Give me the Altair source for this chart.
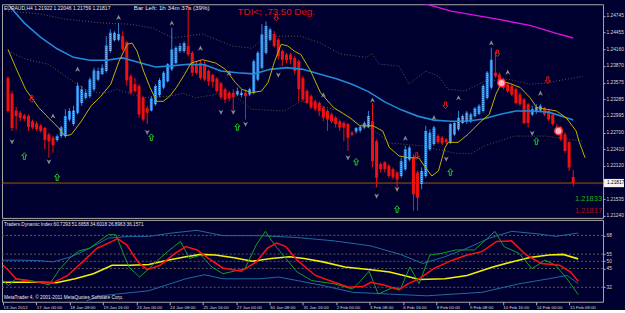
import altair as alt
import pandas as pd

# ---------------- data ----------------
opens = [
1.2366,1.2338,1.2309,1.2305,1.2300,1.2299,1.2290,1.2286,1.2282,1.2278,
1.2267,1.2261,1.2257,1.2264,1.2264,1.2293,1.2285,1.2305,1.2322,1.2331,
1.2334,1.2346,1.2363,1.2373,1.2378,1.2413,1.2432,1.2433,1.2439,1.2429,
1.2369,1.2355,1.2352,1.2331,1.2313,1.2309,1.2320,1.2336,1.2349,1.2360,
1.2381,1.2392,1.2413,1.2413,1.2422,1.2410,1.2390,1.2392,1.2391,1.2378,
1.2371,1.2365,1.2356,1.2346,1.2340,1.2340,1.2337,1.2336,1.2340,1.2337,
1.2340,1.2363,1.2384,1.2410,1.2433,1.2443,1.2433,1.2413,1.2407,1.2407,
1.2401,1.2395,1.2366,1.2343,1.2334,1.2325,1.2322,1.2314,1.2308,1.2302,
1.2296,1.2290,1.2287,1.2285,1.2270,1.2272,1.2274,1.2279,1.2280,1.2290,
1.2255,1.2215,1.2218,1.2212,1.2206,1.2200,1.2194,1.2206,1.2223,1.2226,
1.2200,1.2180,1.2194,1.2241,1.2250,1.2264,1.2261,1.2258,1.2253,1.2267,
1.2276,1.2287,1.2290,1.2290,1.2299,1.2303,1.2308,1.2331,1.2349,1.2375,
1.2372,1.2363,1.2355,1.2352,1.2346,1.2337,1.2328,1.2320,1.2302,1.2307,
1.2309,1.2313,1.2308,1.2302,1.2279,1.2279,1.2267,1.2253,1.21922]
highs = [
1.2369,1.2343,1.2315,1.2308,1.2303,1.2302,1.2293,1.2290,1.2285,1.2280,
1.2270,1.2264,1.2267,1.2282,1.2311,1.2313,1.2317,1.2358,1.2352,1.2346,
1.2367,1.2384,1.2384,1.2390,1.2439,1.2451,1.2448,1.2462,1.2448,1.2430,
1.2372,1.2366,1.2355,1.2334,1.2317,1.2334,1.2355,1.2366,1.2378,1.2392,
1.2454,1.2422,1.2427,1.2430,1.2495,1.2413,1.2395,1.2398,1.2395,1.2381,
1.2373,1.2367,1.2359,1.2349,1.2343,1.2346,1.2349,1.2346,1.2346,1.2349,
1.2398,1.2413,1.2460,1.2465,1.2454,1.2448,1.2436,1.2416,1.2410,1.2410,
1.2404,1.2398,1.2369,1.2346,1.2337,1.2328,1.2325,1.2317,1.2311,1.2305,
1.2299,1.2293,1.2290,1.2287,1.2273,1.2280,1.2283,1.2290,1.2308,1.2322,
1.2258,1.2218,1.2220,1.2215,1.2209,1.2203,1.2226,1.2247,1.2247,1.2232,
1.2203,1.2209,1.2282,1.2276,1.2282,1.2267,1.2264,1.2261,1.2287,1.2290,
1.2308,1.2302,1.2308,1.2305,1.2315,1.2320,1.2355,1.2378,1.2419,1.2413,
1.2375,1.2366,1.2358,1.2355,1.2349,1.2340,1.2331,1.2322,1.2317,1.2320,
1.2320,1.2315,1.2311,1.2305,1.2285,1.2282,1.2270,1.2255,1.22046]
lows = [
1.2305,1.2273,1.2276,1.2290,1.2290,1.2273,1.2276,1.2273,1.2270,1.2241,
1.2226,1.2235,1.2254,1.2261,1.2261,1.2290,1.2282,1.2302,1.2317,1.2328,
1.2331,1.2343,1.2360,1.2371,1.2375,1.2410,1.2430,1.2430,1.2413,1.2352,
1.2337,1.2340,1.2296,1.2290,1.2285,1.2307,1.2317,1.2332,1.2346,1.2358,
1.2378,1.2390,1.2410,1.2410,1.2404,1.2369,1.2372,1.2363,1.2360,1.2352,
1.2349,1.2340,1.2328,1.2322,1.2325,1.2308,1.2334,1.2332,1.2293,1.2334,
1.2337,1.2360,1.2381,1.2407,1.2430,1.2419,1.2398,1.2387,1.2392,1.2390,
1.2372,1.2325,1.2325,1.2320,1.2311,1.2308,1.2299,1.2290,1.2273,1.2287,
1.2279,1.2273,1.2255,1.2238,1.2264,1.2268,1.2270,1.2276,1.2278,1.2209,
1.2174,1.2200,1.2200,1.2191,1.2188,1.2174,1.2191,1.2203,1.2220,1.2133,
1.2133,1.2171,1.2191,1.2238,1.2247,1.2250,1.2248,1.2250,1.2250,1.2264,
1.2273,1.2285,1.2285,1.2287,1.2296,1.2301,1.2305,1.2328,1.2346,1.2366,
1.2349,1.2346,1.2340,1.2334,1.2320,1.2317,1.2285,1.2279,1.2299,1.2303,
1.2307,1.2299,1.2290,1.2282,1.2267,1.2255,1.2235,1.2203,1.21759]
closes = [
1.2308,1.2278,1.2299,1.2296,1.2294,1.2280,1.2279,1.2276,1.2273,1.2257,
1.2255,1.2248,1.2264,1.2279,1.2299,1.2308,1.2309,1.2352,1.2346,1.2340,
1.2363,1.2379,1.2378,1.2384,1.2423,1.2445,1.2445,1.2443,1.2416,1.2362,
1.2340,1.2343,1.2302,1.2293,1.2305,1.2330,1.2352,1.2362,1.2375,1.2390,
1.2416,1.2419,1.2422,1.2427,1.2407,1.2375,1.2375,1.2366,1.2363,1.2360,
1.2359,1.2343,1.2332,1.2328,1.2330,1.2332,1.2343,1.2340,1.2334,1.2346,
1.2395,1.2410,1.2442,1.2457,1.2451,1.2422,1.2404,1.2398,1.2397,1.2398,
1.2378,1.2346,1.2328,1.2322,1.2314,1.2311,1.2308,1.2296,1.2293,1.2290,
1.2285,1.2279,1.2279,1.2261,1.2267,1.2278,1.2280,1.2287,1.2299,1.2220,
1.2191,1.2206,1.2206,1.2194,1.2192,1.2188,1.2220,1.2241,1.2244,1.2162,
1.2156,1.2203,1.2273,1.2270,1.2279,1.2253,1.2251,1.2253,1.2285,1.2287,
1.2296,1.2299,1.2305,1.2302,1.2313,1.2317,1.2352,1.2375,1.2398,1.2369,
1.2355,1.2349,1.2343,1.2337,1.2322,1.2320,1.2287,1.2287,1.2311,1.2315,
1.2317,1.2302,1.2293,1.2285,1.2273,1.2258,1.2238,1.2209,1.21817]
bar_index = list(range(len(closes)))

time_ticks = [0, 8, 16, 24, 32, 40, 48, 56, 64, 72, 80, 88, 96, 104, 112, 120, 128, 136]
time_labels = ["13 Jan 2012", "17 Jan 00:00", "18 Jan 08:00", "19 Jan 16:00", "23 Jan 00:00",
               "24 Jan 08:00", "25 Jan 16:00", "27 Jan 00:00", "30 Jan 08:00", "31 Jan 16:00",
               "2 Feb 00:00", "3 Feb 08:00", "6 Feb 16:00", "8 Feb 00:00", "9 Feb 08:00",
               "10 Feb 16:00", "14 Feb 00:00", "15 Feb 08:00"]

price_ticks = [1.21240, 1.21535, 1.22120, 1.22410, 1.22700, 1.22995, 1.23285,
               1.23575, 1.23870, 1.24160, 1.24455, 1.24745]
bid = 1.21817

ma_i = [0,4,8,12,16,20,24,28,32,36,40,44,48,52,56,60,64,68,72,76,80,84,88,92,96,100,104,108,112,116,120,124,128,132,136,138]
ma_p = [1.2495,1.2462,1.2437,1.2417,1.2402,1.2397,1.2397,1.2401,1.2393,1.2385,1.2387,1.2390,1.2389,1.2378,1.2375,1.2373,1.2381,1.2384,
        1.2381,1.2373,1.2365,1.2355,1.2342,1.2324,1.2310,1.2299,1.2292,1.2290,1.2290,1.2294,1.2302,1.2308,1.2308,1.2306,1.2297,1.2292]

yel_i = [0,1.9,4.3,7.5,9.9,12.3,13.9,15.5,17.9,20.3,22.7,25.1,27.1,29.1,30.3,31.5,33.1,34.7,36.3,37.9,39.5,41.1,43.1,44.7,47.5,
         50.7,53.1,55.5,57.1,59.5,61.9,63.5,65.1,66.7,68.3,69.9,71.5,73.9,76.3,79.5,83.5,85.9,89.1,91.5,93.1,95.5,97.9,100.3,
         101.9,103.5,105.1,106.7,107.5,109.9,112.3,115.5,117.5,119.1,120.3,121.9,125.1,127.5,129.1,131.5,133.9,136.3,138.7,139.4,140.9]
yel_p = [1.2416,1.2384,1.2346,1.2314,1.2296,1.2279,1.2264,1.2267,1.2290,1.2317,1.2334,1.2355,1.2395,1.2425,1.2427,1.2413,1.2378,
         1.2349,1.2325,1.2325,1.2334,1.2349,1.2372,1.2392,1.2398,1.2392,1.2381,1.2358,1.2346,1.2340,1.2343,1.2358,1.2395,1.2425,
         1.2422,1.2413,1.2407,1.2378,1.2340,1.2314,1.2296,1.2282,1.2282,1.2273,1.2244,1.2229,1.2226,1.2226,1.2209,1.2194,1.2203,
         1.2244,1.2253,1.2253,1.2267,1.2290,1.2302,1.2337,1.2355,1.2358,1.2349,1.2331,1.2314,1.2311,1.2308,1.2296,1.2273,1.2255,1.2226]

env_up_i = [0,7.9,13.9,23.5,30.0,35.5,40.3,47.5,54.7,59.5,63.1,71.5,76.3,81.1,87.6,88.8,90.7,95.5,97.9,102.0,
            105.1,107.5,111.6,116.4,121.9,127.4,131.5,140.4]
env_up_p = [1.2483,1.2478,1.2469,1.2462,1.2460,1.2453,1.2436,1.2443,1.2422,1.2418,1.2439,1.2439,1.2427,1.2408,1.2402,
            1.2409,1.2390,1.2387,1.2355,1.2378,1.2369,1.2346,1.2343,1.2360,1.2364,1.2355,1.2357,1.2369]
env_lo_i = [0,4.3,9.8,14.6,19.4,23.5,26.6,33.1,39.6,42.7,45.8,52.3,55.4,59.5,67.4,71.5,76.3,81.1,85.9,89.0,
            93.1,101.0,109.2,113.0,116.4,123.6,131.5,140.4]
env_lo_p = [1.2413,1.2399,1.2390,1.2366,1.2343,1.2339,1.2346,1.2331,1.2334,1.2339,1.2331,1.2339,1.2334,1.2311,1.2308,
            1.2325,1.2317,1.2308,1.2285,1.2276,1.2252,1.2247,1.2234,1.2233,1.2247,1.2264,1.2264,1.2255]

mag_i = [98,100.3,108.2,119.5,127.4,133.9,138.0]
mag_p = [1.2505,1.2499,1.2483,1.2469,1.2458,1.2444,1.2436]

frac_up_i = [11,17,27,40,47,54,77,89,97,104,110,118,122,130]
frac_up_p = [1.2299,1.2381,1.2472,1.2462,1.2418,1.2374,1.2336,1.2327,1.2260,1.2296,1.2331,1.2427,1.2376,1.2339]
frac_dn_i = [1,10,34,52,55,58,66,83,90,95,107,128]
frac_dn_p = [1.2254,1.2219,1.2271,1.2306,1.2306,1.2285,1.2371,1.2226,1.2159,1.2171,1.2224,1.2269]
green_i = [4,12,35,56,85,95,108,129]
green_p = [1.2229,1.2192,1.2262,1.2280,1.2219,1.2136,1.2201,1.2255]
red_i = [5.8,65.5,99.8,106.8,119.5,131.8]
red_p = [1.2329,1.2472,1.2229,1.2318,1.2409,1.2362]
circ_i = [120.5,134.4]
circ_p = [1.2357,1.2273]

# Traders Dynamic Index
tdi_yel_i = [0,8.4,12.8,17.3,21.7,26.2,30.6,35.0,39.5,43.9,47.5,51.0,55.5,59.9,64.4,68.8,72.3,76.8,82.1,88.3,92.8,97.2,99.9,
             106.1,111.4,117.6,122.1,126.5,131.0,134.5,138.1]
tdi_yel_v = [35.5,35.5,35.1,37.9,41.4,47.3,47.3,47.8,50.8,53.2,54.8,54.4,52.5,50.1,52.0,53.2,52.0,49.6,46.1,44.2,42.6,39.5,37.4,
             37.9,40.2,46.1,49.6,52.7,54.4,54.8,51.7]
tdi_red_i = [0,1.3,3.1,6.6,12.0,15.5,19.1,22.6,26.2,27.5,29.7,32.4,34.6,37.7,41.3,43.9,46.6,49.3,52.8,57.2,60.8,63.5,65.7,67.9,
             70.6,75.0,79.5,83.0,86.6,88.3,91.9,95.0,97.2,99.9,103.4,107.9,111.4,115.0,118.5,122.1,125.6,129.2,133.6,136.3,138.1]
tdi_red_v = [47.3,43.8,37.9,36.0,35.1,40.2,49.6,59.1,63.8,65.7,61.4,49.6,44.2,47.3,55.5,60.2,57.9,52.0,45.4,43.1,49.6,59.1,62.6,
             60.2,50.8,40.2,35.5,32.0,32.7,35.5,33.2,30.1,34.4,37.9,44.9,50.8,54.4,56.7,63.8,64.2,54.4,48.5,47.3,42.6,36.2]
tdi_grn_i = [0,1.3,3.1,6.6,11.1,13.7,16.4,18.2,20.8,23.5,25.3,27.1,30.2,32.8,35.9,39.5,42.6,44.8,47.5,50.1,52.8,58.1,60.8,63.0,
             65.2,67.9,70.6,74.1,79.5,83.9,85.7,87.9,90.1,93.7,95.4,97.7,99.9,102.5,105.2,108.8,113.2,115.9,118.1,120.3,123.9,
             127.0,130.1,132.7,135.4,138.1]
tdi_grn_v = [36.7,33.2,37.9,36.7,33.7,44.9,53.2,57.2,59.1,64.9,68.5,68.5,46.1,39.1,47.3,56.7,63.8,52.0,54.4,46.1,41.4,44.9,61.4,
             70.8,61.4,52.0,42.6,36.7,34.4,30.8,36.0,43.1,27.3,32.0,30.8,46.1,34.4,54.4,55.5,57.9,57.9,64.9,70.8,60.2,55.5,44.9,
             50.8,47.3,37.9,26.9]
tdi_up_i = [0,4.8,8.4,12.0,16.4,20.8,25.3,30.2,35.0,40.4,46.6,52.8,61.7,70.6,79.5,88.3,95.4,100.8,106.1,111.4,116.8,122.1,128.3,132.7,138.1]
tdi_up_v = [50.8,50.8,50.5,49.6,53.2,59.1,66.1,67.3,67.3,69.6,71.5,67.8,67.8,66.5,64.2,60.7,54.8,48.5,53.2,59.1,66.1,70.8,69.1,67.3,69.6]
tdi_lo_i = [20,23.5,35.0,43.9,48.4,52.8,61.7,66.1,70.6,76.8,83.9,92.8,101.7,115.0,123.9,131.0,135.4,138.1]
tdi_lo_v = [22.5,26.1,29.6,37.9,40.7,37.9,37.9,39.1,36.7,33.2,28.5,27.3,26.1,28.5,34.4,37.9,40.2,34.6]
tdi_levels = [68, 55, 50, 45, 32]

# ---------------- styling ----------------
BG = "#000030"
FONT = "Liberation Sans"
W = 602
H_TOP = 214
H_BOT = 82

xs = alt.Scale(domain=[-0.24, 144.06], nice=False, zero=False)
ys = alt.Scale(domain=[1.21206, 1.24951], nice=False, zero=False)
vs = alt.Scale(domain=[21.95, 78.74], nice=False, zero=False)

yax = alt.Axis(orient="right", values=price_ticks, format=".5f", grid=False, domain=False,
               tickSize=2, tickColor="#b0b0b0", labelColor="#d8d8d8", labelFontSize=4.8,
               labelFont=FONT, labelPadding=1, title=None, labelOverlap=False, labelFlush=False)
vax = alt.Axis(orient="right", values=tdi_levels, format="d", grid=False, domain=False,
               tickSize=2, tickColor="#b0b0b0", labelColor="#d8d8d8", labelFontSize=4.8,
               labelFont=FONT, labelPadding=1, title=None, labelOverlap=False, labelFlush=False)
label_js = "[" + ",".join("'" + t + "'" for t in time_labels) + "][datum.value/8]"
xax = alt.Axis(values=time_ticks, labelExpr=label_js, labelAlign="left", labelFontSize=4.4,
               labelFont=FONT, labelColor="#d8d8d8", tickSize=3, tickColor="#b0b0b0",
               domain=False, grid=False, labelPadding=1, title=None, labelOverlap=False,
               labelFlush=False, labelBound=False)


def XT(f):
    return alt.X(f, type="quantitative", scale=xs, axis=None)


def YT(f):
    return alt.Y(f, type="quantitative", scale=ys, axis=yax)


def XB(f):
    return alt.X(f, type="quantitative", scale=xs, axis=xax)


def YB(f):
    return alt.Y(f, type="quantitative", scale=vs, axis=vax)


def series(i, p):
    return pd.DataFrame({"i": i, "p": p})


# ---------------- main (price) panel ----------------
candles = pd.DataFrame({"i": bar_index, "o": opens, "h": highs, "l": lows, "c": closes})
cbase = alt.Chart(candles).transform_calculate(dir="datum.c >= datum.o ? 'up' : 'down'")
ccol = alt.Color("dir:N", scale=alt.Scale(domain=["up", "down"], range=["#2a86e0", "#f01010"]), legend=None)

env_up = alt.Chart(series(env_up_i, env_up_p)).mark_line(
    color="#5a5a48", strokeWidth=1, strokeDash=[1, 2], clip=True).encode(x=XT("i"), y=YT("p"))
env_lo = alt.Chart(series(env_lo_i, env_lo_p)).mark_line(
    color="#5a5a48", strokeWidth=1, strokeDash=[1, 2], clip=True).encode(x=XT("i"), y=YT("p"))
bidline = alt.Chart(pd.DataFrame({"p": [bid]})).mark_rule(color="#a05a08", strokeWidth=1).encode(y=YT("p"))
wicks = cbase.mark_rule(strokeWidth=1, clip=True).encode(x=XT("i"), y=YT("l"), y2="h:Q", color=ccol)
bodies = cbase.mark_bar(size=3, clip=True).encode(x=XT("i"), y=YT("o"), y2="c:Q", color=ccol)
# checkered texture of the bullish bodies
texture = cbase.transform_filter("datum.dir == 'up'").mark_rule(
    strokeWidth=1, strokeDash=[1, 1], color="#a8d4ff", clip=True).encode(x=XT("i"), y=YT("o"), y2="c:Q")
ma = alt.Chart(series(ma_i, ma_p)).mark_line(color="#1f8ad8", strokeWidth=1.6, clip=True).encode(
    x=XT("i"), y=YT("p"))
yel = alt.Chart(series(yel_i, yel_p)).mark_line(color="#c2b000", strokeWidth=1, clip=True).encode(
    x=XT("i"), y=YT("p"))
mag = alt.Chart(series(mag_i, mag_p)).mark_line(color="#e010e0", strokeWidth=1.4, clip=True).encode(
    x=XT("i"), y=YT("p"))

FRAC_UP = "M0,-1L0.9,0.9L0,0.35L-0.9,0.9Z"
FRAC_DN = "M0,1L0.9,-0.9L0,-0.35L-0.9,-0.9Z"
ARR_UP = "M0,-1L0.75,-0.15L0.3,-0.15L0.3,1L-0.3,1L-0.3,-0.15L-0.75,-0.15Z"
ARR_DN = "M0,1L0.75,0.15L0.3,0.15L0.3,-1L-0.3,-1L-0.3,0.15L-0.75,0.15Z"

fu = alt.Chart(series(frac_up_i, frac_up_p)).mark_point(
    shape=FRAC_UP, filled=True, size=30, color="#8a8a8a", opacity=1).encode(x=XT("i"), y=YT("p"))
fd = alt.Chart(series(frac_dn_i, frac_dn_p)).mark_point(
    shape=FRAC_DN, filled=True, size=30, color="#8a8a8a", opacity=1).encode(x=XT("i"), y=YT("p"))
ga = alt.Chart(series(green_i, green_p)).mark_point(
    shape=ARR_UP, filled=False, size=45, color="#20c020", strokeWidth=1, opacity=1).encode(x=XT("i"), y=YT("p"))
ra = alt.Chart(series(red_i, red_p)).mark_point(
    shape=ARR_DN, filled=False, size=45, color="#e01818", strokeWidth=1, opacity=1).encode(x=XT("i"), y=YT("p"))
circ = alt.Chart(series(circ_i, circ_p)).mark_point(
    shape="circle", filled=True, size=55, color="#ffb8c0", stroke="#ff3040", strokeWidth=1.5, opacity=1
).encode(x=XT("i"), y=YT("p"))

bidbox = alt.Chart(pd.DataFrame({"p": [bid]})).transform_calculate(
    hi="datum.p + 0.00072", lo="datum.p - 0.00072").mark_rect(color="#f4f4f4", clip=False).encode(
    x=alt.value(W + 1), x2=alt.value(W + 21), y=YT("hi"), y2="lo:Q")
bidtext = alt.Chart(pd.DataFrame({"p": [bid], "t": ["%.5f" % bid]})).mark_text(
    align="left", baseline="middle", fontSize=4.8, font=FONT, color="#000000").encode(
    x=alt.value(W + 4), y=YT("p"), text="t:N")


def label(txt, x, y, size, color, align="left"):
    return alt.Chart(pd.DataFrame({"t": [txt]})).mark_text(
        align=align, baseline="middle", fontSize=size, font=FONT, color=color).encode(
        x=alt.value(x), y=alt.value(y), text="t:N")


hdr1 = label("EURAUD,H4  1.21922 1.22046 1.21759 1.21817", 2, 4, 5.0, "#e8e8e8")
hdr2 = label("Bar Left: 1h 34m 37s (39%)", 132, 4, 6.2, "#e8e8e8")
hdr3 = label("TDI<: ,73.50 Deg.", 236, 8, 9.8, "#e01010")
lvl1 = label("1.21833", W - 1, 195, 7.5, "#20b020", align="right")
lvl2 = label("1.21817", W - 1, 207, 7.5, "#b01010", align="right")

top = alt.layer(env_up, env_lo, bidline, wicks, bodies, texture, ma, yel, mag, fu, fd, ga, ra, circ,
                bidbox, bidtext, hdr1, hdr2, hdr3, lvl1, lvl2).properties(width=W, height=H_TOP)

# ---------------- indicator panel ----------------
levels = alt.Chart(pd.DataFrame({"v": tdi_levels})).mark_rule(
    color="#5c5c5c", strokeDash=[2, 2], strokeWidth=1).encode(y=YB("v"))


def tline(i, v, color, w):
    return alt.Chart(pd.DataFrame({"i": i, "v": v})).mark_line(
        color=color, strokeWidth=w, clip=True).encode(x=XB("i"), y=YB("v"))


b_up = tline(tdi_up_i, tdi_up_v, "#1f6aa0", 1)
b_lo = tline(tdi_lo_i, tdi_lo_v, "#1f6aa0", 1)
t_yel = tline(tdi_yel_i, tdi_yel_v, "#f0f000", 1.6)
t_grn = tline(tdi_grn_i, tdi_grn_v, "#10a020", 1)
t_red = tline(tdi_red_i, tdi_red_v, "#ff1010", 1.5)
ititle = label("Traders Dynamic Index 60.7293 51.6658 34.6018 26.8963 36.1571", 2, 5, 4.7, "#e8e8e8")
copyr = label("MetaTrader 4, \u00a9 2001-2011 MetaQuotes Software Corp.", 2, 78, 4.8, "#e8e8e8")

bottom = alt.layer(levels, b_up, b_lo, t_yel, t_grn, t_red, ititle, copyr).properties(width=W, height=H_BOT)

chart = alt.vconcat(top, bottom, spacing=2, bounds="flush").properties(
    background=BG, padding={"left": 1, "top": 3, "right": 0, "bottom": 0}
).configure_view(stroke="#a8a8a8", strokeWidth=1)

chart.save("out.html", embed_options={"renderer": "svg", "actions": False})
